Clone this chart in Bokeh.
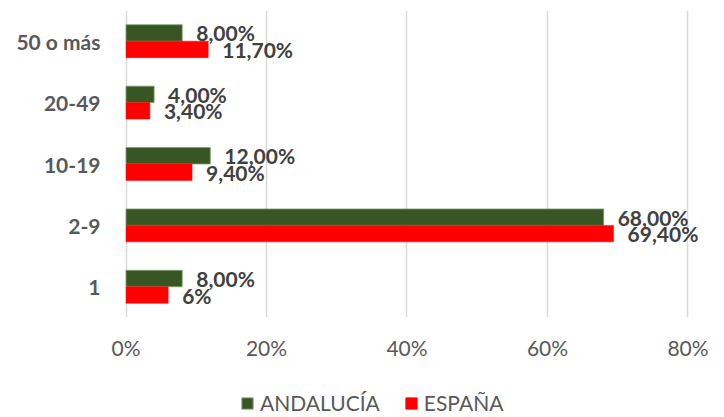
from bokeh.plotting import figure
from bokeh.layouts import column
from bokeh.models import ColumnDataSource, FactorRange, Range1d, FixedTicker, Legend, LegendItem
from bokeh.transform import dodge
from bokeh.embed import file_html
from bokeh.resources import INLINE
from bokeh.core.properties import value

categories = ["1", "2-9", "10-19", "20-49", "50 o más"]
andalucia = [8.0, 68.0, 12.0, 4.0, 8.0]
espana = [6.0, 69.4, 9.4, 3.4, 11.7]
andalucia_labels = ["8,00%", "68,00%", "12,00%", "4,00%", "8,00%"]
espana_labels = ["6%", "69,40%", "9,40%", "3,40%", "11,70%"]
x_ticks = [0, 20, 40, 60, 80]
x_tick_labels = ["0%", "20%", "40%", "60%", "80%"]
series_names = ["ANDALUCÍA", "ESPAÑA"]

GREEN = "#375623"
RED = "#FF0000"
FONT = "Lato"
FS = "21px"

src = ColumnDataSource(dict(cat=categories, a=andalucia, e=espana,
                            al=andalucia_labels, el=espana_labels))

p = figure(width=716, height=378, y_range=FactorRange(factors=categories),
           x_range=Range1d(-0.5, 84.06), output_backend="svg", toolbar_location=None,
           min_border_left=122, min_border_right=0, min_border_top=10, min_border_bottom=61)
p.outline_line_color = None
p.background_fill_color = "white"
p.border_fill_color = "white"

h = 0.268
off = 0.134
p.hbar(y=dodge("cat", off, range=p.y_range), right="a", left=0, height=h, source=src,
       fill_color=GREEN, line_color="#7F9F6A", line_width=0.8)
p.hbar(y=dodge("cat", -off, range=p.y_range), right="e", left=0, height=h, source=src,
       fill_color=RED, line_color=RED, line_width=0.5)

p.text(x="a", y=dodge("cat", off, range=p.y_range), text="al", source=src,
       x_offset=14, text_align="left", text_baseline="middle",
       text_font=value(FONT), text_font_style="bold", text_font_size=FS, text_color="#404040")
p.text(x="e", y=dodge("cat", -off, range=p.y_range), text="el", source=src,
       x_offset=14, text_align="left", text_baseline="middle",
       text_font=value(FONT), text_font_style="bold", text_font_size=FS, text_color="#404040")

# grid
p.ygrid.grid_line_color = None
p.xgrid.ticker = FixedTicker(ticks=x_ticks)
p.xgrid.grid_line_color = "#D9D9D9"
p.xgrid.grid_line_width = 1.5

# x axis
xa = p.xaxis[0]
xa.ticker = FixedTicker(ticks=x_ticks)
xa.major_label_overrides = {t: l for t, l in zip(x_ticks, x_tick_labels)}
xa.axis_line_color = None
xa.major_tick_line_color = None
xa.minor_tick_line_color = None
xa.major_tick_in = 0
xa.major_tick_out = 0
xa.major_label_standoff = 17
xa.major_label_text_font = FONT
xa.major_label_text_font_size = FS
xa.major_label_text_color = "#595959"

# y axis
ya = p.yaxis[0]
ya.axis_line_color = None
ya.major_tick_line_color = None
ya.minor_tick_line_color = None
ya.major_tick_in = 0
ya.major_tick_out = 0
ya.major_label_standoff = 22
ya.major_label_text_font = FONT
ya.major_label_text_font_style = "bold"
ya.major_label_text_font_size = FS
ya.major_label_text_color = "#595959"

# legend strip (hidden copies of the series supply the legend swatches)
lg = figure(width=716, height=38, x_range=Range1d(0, 1), y_range=FactorRange(factors=categories),
            output_backend="svg", toolbar_location=None, x_axis_type=None, y_axis_type=None,
            min_border_left=0, min_border_right=0, min_border_top=0, min_border_bottom=0)
lg.outline_line_color = None
lg.background_fill_color = "white"
lg.border_fill_color = "white"
g1 = lg.hbar(y="cat", right="a", left=0, height=0.5, source=src,
             fill_color=GREEN, line_color="#7F9F6A", visible=False)
g2 = lg.hbar(y="cat", right="e", left=0, height=0.5, source=src,
             fill_color=RED, line_color=RED, visible=False)

legend = Legend(items=[LegendItem(label=series_names[0], renderers=[g1]),
                       LegendItem(label=series_names[1], renderers=[g2])],
                orientation="horizontal", location=(118, 1),
                padding=0, margin=0, spacing=24, border_line_color=None,
                background_fill_alpha=0, glyph_width=14, glyph_height=14,
                inactive_fill_alpha=0, click_policy="none",
                label_standoff=6, label_text_font=FONT, label_text_font_size=FS,
                label_text_color="#595959")
lg.add_layout(legend, "center")

layout = column(p, lg, spacing=0)
open("out.html", "w").write(file_html(layout, INLINE))
